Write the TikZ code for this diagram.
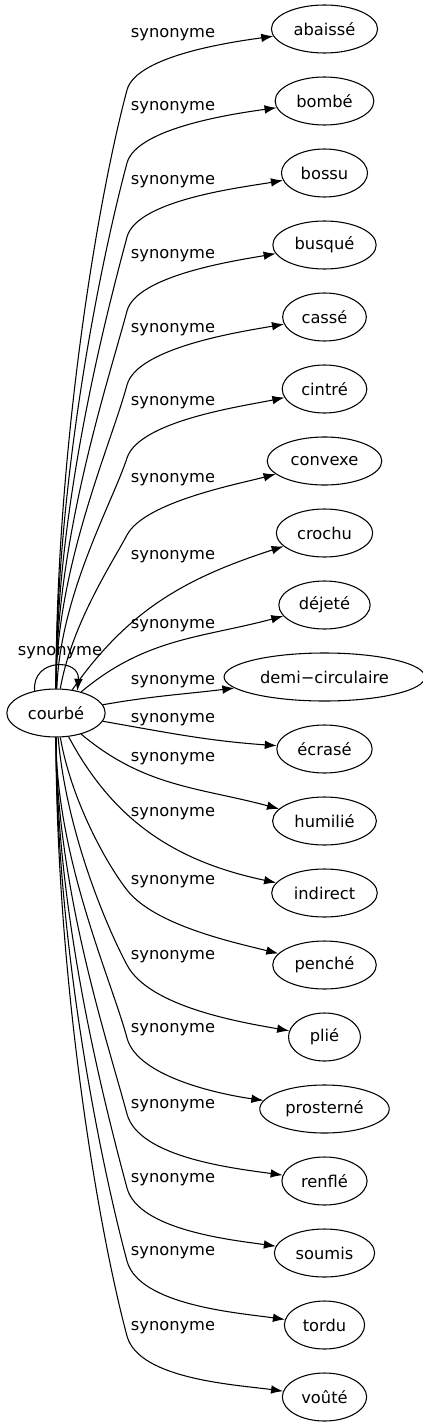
\documentclass[tikz,border=0pt]{standalone}
\usepackage{fontspec}
\setmainfont{DejaVu Sans}
\usetikzlibrary{shapes, arrows.meta}
\tikzstyle{word} = [ ellipse, draw, inner xsep=5pt, inner ysep=2pt, minimum width=54pt, minimum height=36pt ]
\tikzstyle{lbl} = [ inner sep=1pt ]
\tikzstyle{line} = [ draw, -{Latex[length=9pt, width=6.5pt]} ]

\begin{document}
\begin{tikzpicture}[x=0.75pt, y=0.75pt, node distance=54pt, line width=0.8pt, font=\fontsize{12.2}{14}\selectfont]
\useasboundingbox (0,0) rectangle (423,-1427);

% Words
\node [word] (courbe) at (56,-713) {courbé};
\node [word] (abaisse) at (324.5,-29) {abaissé};
\node [word, below of = abaisse] (bombe) {bombé};
\node [word, below of = bombe] (bossu) {bossu};
\node [word, below of = bossu] (busque) {busqué};
\node [word, below of = busque] (casse) {cassé};
\node [word, below of = casse] (cintre) {cintré};
\node [word, below of = cintre] (convexe) {convexe};
\node [word, below of = convexe] (crochu) {crochu};
\node [word, below of = crochu] (dejete) {déjeté};
\node [word, below of = dejete] (demi) {demi−circulaire};
\node [word, below of = demi] (ecrase) {écrasé};
\node [word, below of = ecrase] (humilie) {humilié};
\node [word, below of = humilie] (indirect) {indirect};
\node [word, below of = indirect] (penche) {penché};
\node [word, below of = penche] (plie) {plié};
\node [word, below of = plie] (prosterne) {prosterné};
\node [word, below of = prosterne] (renfle) {renflé};
\node [word, below of = renfle] (soumis) {soumis};
\node [word, below of = soumis] (tordu) {tordu};
\node [word, below of = tordu] (voute) {voûté};

% Edge labels
\node [lbl] (synLoop) at (60,-653) {synonyme};
\node [lbl] (synAbaisse) at (173,-35) {synonyme};
\node [lbl] (synBombe) at (173,-108) {synonyme};
\node [lbl] (synBossu) at (173,-182) {synonyme};
\node [lbl] (synBusque) at (173,-256) {synonyme};
\node [lbl] (synCasse) at (173,-330) {synonyme};
\node [lbl] (synCintre) at (173,-403) {synonyme};
\node [lbl] (synConvexe) at (173,-480) {synonyme};
\node [lbl] (synCrochu) at (173,-557) {synonyme};
\node [lbl] (synDejete) at (173,-626) {synonyme};
\node [lbl] (synDemi) at (173,-682) {synonyme};
\node [lbl] (synEcrase) at (173,-720) {synonyme};
\node [lbl] (synHumilie) at (173,-759) {synonyme};
\node [lbl] (synIndirect) at (173,-814) {synonyme};
\node [lbl] (synPenche) at (173,-882) {synonyme};
\node [lbl] (synPlie) at (173,-957) {synonyme};
\node [lbl] (synProsterne) at (173,-1030) {synonyme};
\node [lbl] (synRenfle) at (173,-1106) {synonyme};
\node [lbl] (synSoumis) at (173,-1180) {synonyme};
\node [lbl] (synTordu) at (173,-1253) {synonyme};
\node [lbl] (synVoute) at (173,-1328) {synonyme};

% Bends of the long edges
\coordinate (kAbaisse) at (127,-90);
\coordinate (kBombe) at (127,-163);
\coordinate (kBossu) at (127,-237);
\coordinate (kBusque) at (127,-311);
\coordinate (kCasse) at (127,-385);
\coordinate (kCintre) at (127,-458);
\coordinate (kConvexe) at (127,-535);
\coordinate (kPenche) at (127,-890);
\coordinate (kPlie) at (127,-965);
\coordinate (kProsterne) at (127,-1038);
\coordinate (kRenfle) at (127,-1114);
\coordinate (kSoumis) at (127,-1188);
\coordinate (kTordu) at (127,-1261);
\coordinate (kVoute) at (127,-1336);

% Edges
\path [line] (courbe.134) .. controls +(95:33) and +(85:33) .. (courbe.46);
\path [line] (courbe) to[out=90, in=255, in looseness=.5] (kAbaisse) to[out=75, in=188, looseness=.6] (abaisse);
\path [line] (courbe) to[out=90, in=255, in looseness=.5] (kBombe) to[out=75, in=188, looseness=.6] (bombe);
\path [line] (courbe) to[out=90, in=255, in looseness=.5] (kBossu) to[out=75, in=190, looseness=.6] (bossu);
\path [line] (courbe) to[out=90, in=255, in looseness=.5] (kBusque) to[out=75, in=190, looseness=.6] (busque);
\path [line] (courbe) to[out=90, in=255, in looseness=.5] (kCasse) to[out=75, in=190, looseness=.6] (casse);
\path [line] (courbe) to[out=88, in=252, in looseness=.5] (kCintre) to[out=72, in=192, looseness=.6] (cintre);
\path [line] (courbe) to[out=80, in=242, in looseness=.5] (kConvexe) to[out=62, in=195, looseness=.6] (convexe);
\path [line] (courbe) to[out=55, in=198] (crochu);
\path [line] (courbe) to[out=40, in=195] (dejete);
\path [line] (courbe) to[out=10, in=187] (demi);
\path [line] (courbe) to[out=-10, in=176] (ecrase);
\path [line] (courbe) to[out=-40, in=165] (humilie);
\path [line] (courbe) to[out=-62, in=168] (indirect);
\path [line] (courbe) to[out=-80, in=128, in looseness=.5] (kPenche) to[out=-52, in=166, looseness=.7] (penche);
\path [line] (courbe) to[out=-85, in=118, in looseness=.5] (kPlie) to[out=-62, in=170, looseness=.7] (plie);
\path [line] (courbe) to[out=-90, in=105, in looseness=.5] (kProsterne) to[out=-75, in=172, looseness=.7] (prosterne);
\path [line] (courbe) to[out=-90, in=105, in looseness=.5] (kRenfle) to[out=-75, in=172, looseness=.7] (renfle);
\path [line] (courbe) to[out=-90, in=105, in looseness=.5] (kSoumis) to[out=-75, in=172, looseness=.7] (soumis);
\path [line] (courbe) to[out=-90, in=105, in looseness=.5] (kTordu) to[out=-75, in=172, looseness=.7] (tordu);
\path [line] (courbe) to[out=-90, in=105, in looseness=.5] (kVoute) to[out=-75, in=172, looseness=.7] (voute);
\end{tikzpicture}
\end{document}
